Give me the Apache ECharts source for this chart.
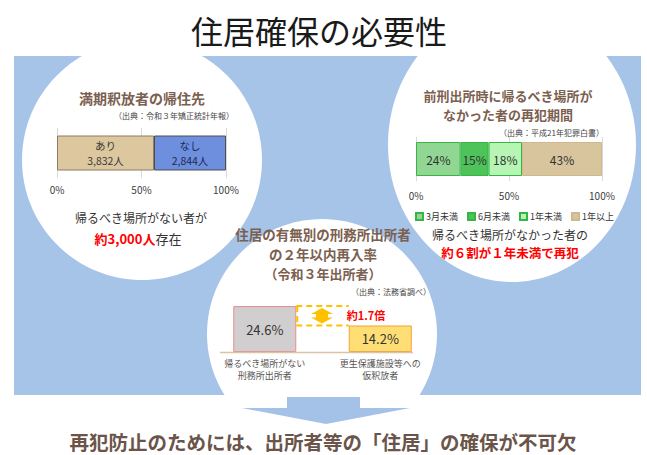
<!DOCTYPE html>
<html>
<head>
<meta charset="utf-8">
<script src="https://cdn.jsdelivr.net/npm/echarts@6/dist/echarts.min.js"></script>
<style>
  html, body { margin: 0; padding: 0; background: #fff; }
  #main { width: 647px; height: 455px; }
</style>
</head>
<body>
<div id="main"></div>
<script>
// 満期釈放者の帰住先
var homeCats = ['あり', 'なし'];
var homeCounts = [3832, 2844];
// 前刑出所時に帰るべき場所がなかった者の再犯期間
var periodCats = ['3月未満', '6月未満', '1年未満', '1年以上'];
var periodPct = [24, 15, 18, 43];
// 住居の有無別 2年以内再入率
var rateCats = ['帰るべき場所がない\n刑務所出所者', '更生保護施設等への\n仮釈放者'];
var ratePct = [24.6, 14.2];
// 目盛り
var pctTicks = [0, 50, 100];

var FONT = '"Noto Sans CJK JP", "Noto Sans", sans-serif';
var BROWN = '#7b604f';

var homeColors = [['#dcc79f', '#8f7b66', '#3a3a3a'], ['#6e8fde', '#4d4d4d', '#1c2a55']];
var periodColors = [['#91d793', '#34b546'], ['#4dc35a', '#34b546'], ['#b6f5b3', '#34b546'], ['#d9c59d', '#cdb98f']];
var rateColors = [['#d0cece', '#e98c8c'], ['#ffdf75', '#f2a23a']];

var chart = echarts.init(document.getElementById('main'), null, { renderer: 'svg' });

function txt(id, text, x, y, size, color, weight, align) {
  return {
    type: 'text', id: id, x: x, y: y, z: 30,
    style: {
      text: text, fill: color,
      font: (weight || 'normal') + ' ' + size + 'px ' + FONT,
      textAlign: align || 'center', align: align || 'center',
      textVerticalAlign: 'middle', verticalAlign: 'middle'
    }
  };
}

var homeTotal = homeCounts.reduce(function (a, b) { return a + b; }, 0);

function pctAxis(grid, margin) {
  return {
    type: 'value', gridIndex: grid, z: 3, min: pctTicks[0], max: pctTicks[pctTicks.length - 1],
    interval: pctTicks[1] - pctTicks[0],
    axisLine: { show: false }, axisTick: { show: false },
    axisLabel: { formatter: '{value}%', fontSize: 10, color: '#404040', margin: margin, fontFamily: FONT },
    splitLine: { show: true, lineStyle: { color: '#d9d9d9', width: 1 } }
  };
}

var series = [];
homeCats.forEach(function (name, i) {
  series.push({
    name: name, type: 'bar', stack: 'home', xAxisIndex: 0, yAxisIndex: 0, barWidth: 35, z: 4,
    data: [homeCounts[i] / homeTotal * 100],
    itemStyle: { color: homeColors[i][0], borderColor: homeColors[i][1], borderWidth: 1 },
    label: {
      show: true, position: 'inside', fontSize: 10.5, lineHeight: 14.5, color: homeColors[i][2], fontFamily: FONT,
      formatter: name + '\n' + homeCounts[i].toLocaleString('en-US') + '人'
    }
  });
});
periodCats.forEach(function (name, i) {
  series.push({
    name: name, type: 'bar', stack: 'period', xAxisIndex: 1, yAxisIndex: 1, barWidth: 34, z: 4,
    data: [periodPct[i]],
    itemStyle: { color: periodColors[i][0], borderColor: periodColors[i][1], borderWidth: 1 },
    label: { show: true, position: 'inside', fontSize: 12, color: '#333', fontFamily: FONT, formatter: '{c}%' }
  });
});
series.push({
  type: 'bar', xAxisIndex: 2, yAxisIndex: 2, barWidth: 63, z: 4,
  data: ratePct.map(function (v, i) {
    return { value: v, itemStyle: { color: rateColors[i][0], borderColor: rateColors[i][1], borderWidth: 1 } };
  }),
  label: { show: true, position: 'inside', fontSize: 13, color: '#333', fontFamily: FONT, formatter: '{c}%' }
});

var graphics = [
  { type: 'rect', id: 'bg', z: 0, shape: { x: 14, y: 56, width: 627, height: 339 }, style: { fill: '#a6c3e8' } },
  { type: 'ellipse', id: 'c1', z: 1, shape: { cx: 142, cy: 160, rx: 120, ry: 120 }, style: { fill: '#fff' } },
  { type: 'ellipse', id: 'c2', z: 1, shape: { cx: 512, cy: 145, rx: 124, ry: 137 }, style: { fill: '#fff' } },
  { type: 'ellipse', id: 'c3', z: 1, shape: { cx: 322, cy: 334, rx: 115, ry: 115 }, style: { fill: '#fff' } },
  { type: 'polygon', id: 'arrow', z: 1, shape: { points: [[287, 397], [360, 397], [360, 408], [410, 408], [326, 424], [242, 408], [287, 408]] }, style: { fill: '#a4c1e7' } },
  { type: 'line', id: 'base', z: 5, shape: { x1: 220, y1: 352.5, x2: 413, y2: 352.5 }, style: { stroke: '#dcc3a3', lineWidth: 1.5 } },

  txt('t0', '住居確保の必要性', 319, 30, 32, '#1a1a1a', 'normal'),
  txt('t1', '満期釈放者の帰住先', 142, 98, 14, BROWN, 'bold'),
  txt('s1', '（出典：令和３年矯正統計年報）', 234, 115, 8, '#444', 'normal', 'right'),
  txt('n1', '帰るべき場所がない者が', 141, 217, 12, '#333', 'normal'),
  {
    type: 'text', id: 'n1b', x: 138, y: 238, z: 30,
    style: {
      text: '{r|約3,000人}{k|存在}', textAlign: 'center', align: 'center', textVerticalAlign: 'middle', verticalAlign: 'middle',
      rich: {
        r: { fill: '#ff0000', fontSize: 13, fontWeight: 'bold', fontFamily: FONT },
        k: { fill: '#333', fontSize: 13, fontFamily: FONT }
      }
    }
  },
  txt('t2a', '前刑出所時に帰るべき場所が', 508, 95, 13, BROWN, 'bold'),
  txt('t2b', 'なかった者の再犯期間', 508, 114, 13, BROWN, 'bold'),
  txt('s2', '（出典：平成21年犯罪白書）', 604, 132, 8, '#444', 'normal', 'right'),
  txt('n2', '帰るべき場所がなかった者の', 510, 234, 12, '#333', 'normal'),
  txt('n2b', '約６割が１年未満で再犯', 510, 252, 12.5, '#ff0000', 'bold'),
  txt('t3a', '住居の有無別の刑務所出所者', 323, 234, 13.5, BROWN, 'bold'),
  txt('t3b', 'の２年以内再入率', 323, 253.5, 13.5, BROWN, 'bold'),
  txt('t3c', '（令和３年出所者）', 323, 273, 13, BROWN, 'bold'),
  txt('s3', '（出典：法務省調べ）', 431, 291, 8, '#444', 'normal', 'right'),
  txt('foot', '再犯防止のためには、出所者等の「住居」の確保が不可欠', 323, 441, 19.5, '#6b554a', 'bold')
];

var option = {
  animation: false,
  textStyle: { fontFamily: FONT },
  grid: [
    { left: 57, top: 128, width: 169, height: 50 },
    { left: 416, top: 137, width: 186, height: 44 },
    { left: 207, top: 296, width: 231, height: 56 }
  ],
  xAxis: [
    pctAxis(0, 6),
    pctAxis(1, 9),
    {
      type: 'category', gridIndex: 2, data: rateCats, z: 3,
      axisLine: { show: false }, axisTick: { show: false },
      axisLabel: { interval: 0, fontSize: 9, lineHeight: 12.5, color: '#555', margin: 5, fontFamily: FONT }
    }
  ],
  yAxis: [
    { type: 'category', gridIndex: 0, data: ['帰住先'], show: false },
    { type: 'category', gridIndex: 1, data: ['再犯期間'], show: false },
    { type: 'value', gridIndex: 2, min: 0, max: 30, show: false }
  ],
  legend: {
    data: periodCats, left: 410, top: 207, z: 5, icon: 'rect', itemWidth: 7, itemHeight: 7, itemGap: 9,
    selectedMode: false, textStyle: { fontSize: 9, color: '#333', fontFamily: FONT, padding: [0, 0, 0, -2] }
  },
  graphic: { elements: graphics },
  series: series
};

chart.setOption(option);

// 2本の棒の高さの差を示す破線と矢印
var p0 = chart.convertToPixel({ gridIndex: 2 }, [0, ratePct[0]]);
var p1 = chart.convertToPixel({ gridIndex: 2 }, [1, ratePct[1]]);
var xa = p0[0] + 31.5, xb = p1[0] - 31.5;
var ya = p0[1], yb = p1[1];
var mx = (xa + xb) / 2 - 0.5;
var dash = { stroke: '#ffc000', lineWidth: 2, lineDash: [6, 4] };
graphics.push(
  { type: 'line', id: 'd1', z: 6, shape: { x1: xa, y1: ya, x2: xb, y2: ya }, style: dash },
  { type: 'line', id: 'd2', z: 6, shape: { x1: xa, y1: yb, x2: xb, y2: yb }, style: dash },
  { type: 'line', id: 'd3', z: 6, shape: { x1: xa + 1, y1: ya, x2: xa + 1, y2: yb }, style: dash },
  {
    type: 'polygon', id: 'dbl', z: 6,
    shape: { points: [[mx, ya + 2], [mx + 11, ya + 8], [mx + 6, ya + 8], [mx + 6, yb - 8], [mx + 11, yb - 8], [mx, yb - 2],
      [mx - 11, yb - 8], [mx - 6, yb - 8], [mx - 6, ya + 8], [mx - 11, ya + 8]] },
    style: { fill: '#ffc000' }
  },
  txt('ratio', '約' + (ratePct[0] / ratePct[1]).toFixed(1) + '倍', xb - 2, (ya + yb) / 2 - 1, 11, '#ff0000', 'bold', 'left')
);
option.graphic = { elements: graphics };
chart.setOption(option, true);
</script>
</body>
</html>
